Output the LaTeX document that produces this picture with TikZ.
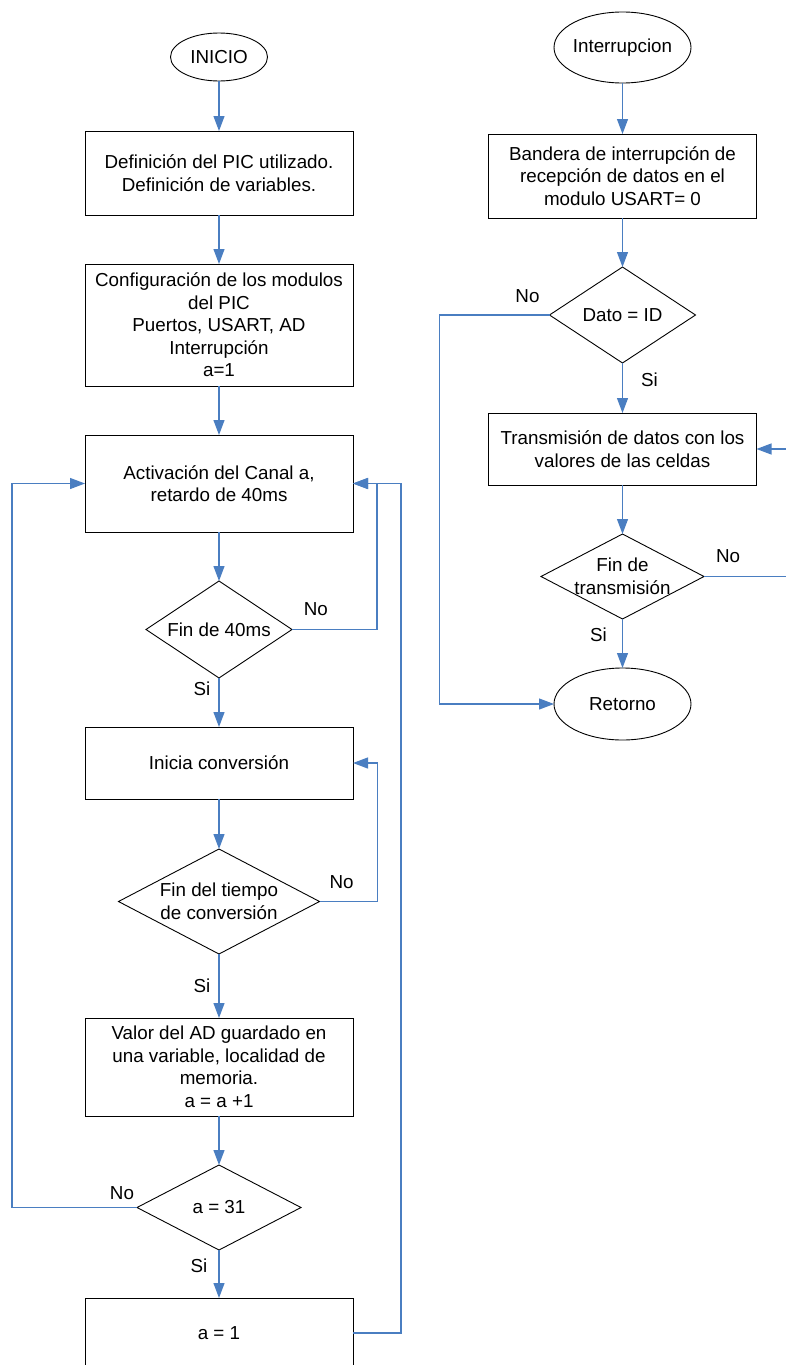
\documentclass[tikz,border=0pt]{standalone}
\usepackage{fontspec}
\setmainfont{Liberation Sans}
\usetikzlibrary{shapes.geometric, arrows.meta, positioning}
\definecolor{flujo}{RGB}{74,126,193}

\begin{document}
\begin{tikzpicture}[x=1pt, y=-1pt, node distance=49pt,
    font=\fontsize{18.8}{22.5}\selectfont,
    proceso/.style={draw, rectangle, line width=0.9pt, minimum width=268pt, align=center, inner sep=2pt, outer sep=0pt},
    terminal/.style={draw, ellipse, line width=0.9pt, inner sep=0pt, outer sep=0pt},
    decision/.style={draw, diamond, line width=0.9pt, aspect=1.9, inner sep=0pt, outer sep=0pt, align=center},
    flecha/.style={draw=flujo, line width=1.2pt, -{Triangle[length=15pt, width=11pt]}},
    etiq/.style={inner sep=0pt}]
    \useasboundingbox (0,0) rectangle (785,1365);

    \node[terminal, minimum width=97pt, minimum height=48pt] (inicio) at (219,57) {INICIO};
    \node[proceso, minimum height=84pt] (defpic) [below=50pt of inicio] {Definición del PIC utilizado.\\Definición de variables.};
    \node[proceso, minimum height=122pt] (config) [below=of defpic] {Configuración de los modulos\\del PIC\\Puertos, USART, AD\\Interrupción\\a=1};
    \node[proceso, minimum height=97pt] (canal) [below=of config] {Activación del Canal a,\\retardo de 40ms};
    \node[decision, minimum width=146pt, minimum height=97pt] (fin40) [below=of canal] {Fin de 40ms};
    \node[proceso, minimum height=72pt] (conv) [below=of fin40] {Inicia conversión};
    \node[decision, minimum width=201pt, minimum height=105pt] (fintiempo) [below=50pt of conv] {Fin del tiempo\\de conversión};
    \node[proceso, minimum height=98pt] (valor) [below=64pt of fintiempo] {Valor del AD guardado en\\una variable, localidad de\\memoria.\\a = a +1};
    \node[decision, minimum width=164pt, minimum height=85pt] (a31) [below=of valor] {a = 31};
    \node[proceso, minimum height=70pt] (reinicio) [below=48pt of a31] {a = 1};

    \node[terminal, minimum width=137pt, minimum height=71pt, inner xsep=-2pt] (interr) at (622.5,47.5) {Interrupcion};
    \node[proceso, minimum height=84pt] (bandera) [below=51pt of interr] {Bandera de interrupción de\\recepción de datos en el\\modulo USART= 0};
    \node[decision, minimum width=146pt, minimum height=96pt] (dato) [below=of bandera] {Dato = ID};
    \node[proceso, minimum height=72pt] (transm) [below=50pt of dato] {Transmisión de datos con los\\valores de las celdas};
    \node[decision, minimum width=163pt, minimum height=85pt, inner sep=-4pt] (fintx) [below=of transm] {Fin de\\transmisión};
    \node[terminal, minimum width=137pt, minimum height=72pt] (retorno) [below=of fintx] {Retorno};

    \path
    (inicio) edge[flecha] (defpic)
    (defpic) edge[flecha] (config)
    (config) edge[flecha] (canal)
    (canal) edge[flecha] (fin40)
    (fin40) edge[flecha] node[etiq, pos=0.22, left=8pt] {Si} (conv)
    (conv) edge[flecha] (fintiempo)
    (fintiempo) edge[flecha] node[etiq, pos=0.5, left=8pt] {Si} (valor)
    (valor) edge[flecha] (a31)
    (a31) edge[flecha] node[etiq, pos=0.33, left=11pt] {Si} (reinicio)
    (interr) edge[flecha] (bandera)
    (bandera) edge[flecha] (dato)
    (dato) edge[flecha] node[etiq, pos=0.34, right=18pt] {Si} (transm)
    (transm) edge[flecha] (fintx)
    (fintx) edge[flecha] node[etiq, pos=0.33, left=15pt] {Si} (retorno);

    \draw[flecha] (fin40.east) -- node[etiq, pos=0.28, above=13pt] {No} ++(85,0) |- (canal.east);
    \draw[flecha] (fintiempo.east) -- node[etiq, pos=0.38, above=12pt] {No} ++(58,0) |- (conv.east);
    \draw[flecha] (a31.west) -- node[etiq, pos=0.12, above=7pt] {No} ++(-125,0) |- (canal.west);
    \draw[flecha] (reinicio.east) -- ++(48,0) |- (canal.east);
    \draw[flecha] (dato.west) -- node[etiq, pos=0.2, above=12pt] {No} ++(-110,0) |- (retorno.west);
    \draw[flecha] (fintx.east) -- node[etiq, pos=0.28, above=13pt] {No} ++(86,0) |- (transm.east);
\end{tikzpicture}
\end{document}
